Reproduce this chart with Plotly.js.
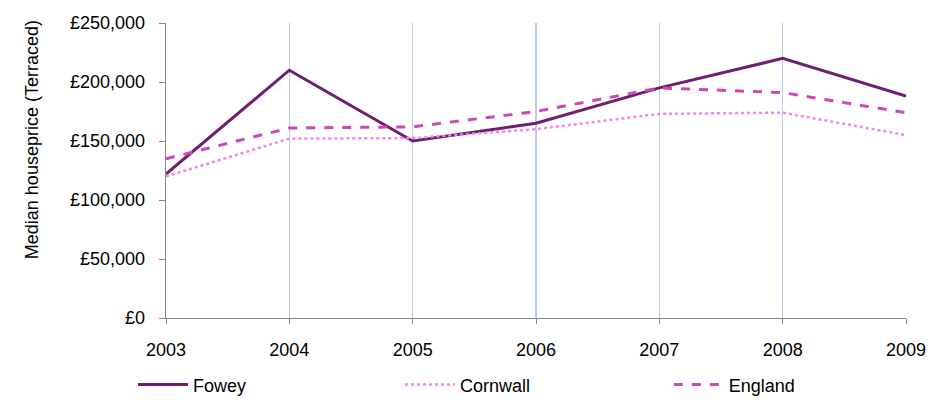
<!DOCTYPE html>
<html><head><meta charset="utf-8">
<script src="https://cdn.plot.ly/plotly-3.0.1.min.js"></script>
<style>html,body{margin:0;padding:0;background:#fff}</style>
</head><body><div id="chart" style="width:946px;height:403px"></div>
<script>
const years = [2003, 2004, 2005, 2006, 2007, 2008, 2009];
const fowey = [122000, 210000, 150000, 165000, 195000, 220000, 188000];
const cornwall = [120000, 152000, 152500, 160000, 173000, 174000, 155000];
const england = [135000, 161000, 162000, 175000, 195000, 191000, 174000];
const yTickVals = [0, 50000, 100000, 150000, 200000, 250000];
const yTickText = ['\u00A30', '\u00A350,000', '\u00A3100,000', '\u00A3150,000', '\u00A3200,000', '\u00A3250,000'];
const yTitle = 'Median houseprice (Terraced)';

const traces = [
  {x: years, y: fowey, name: 'Fowey', mode: 'lines', line: {color: '#6E1F6E', width: 3}, legend: 'legend'},
  {x: years, y: cornwall, name: 'Cornwall', mode: 'lines', line: {color: '#F084F0', width: 2.5, dash: 'dot'}, legend: 'legend2'},
  {x: years, y: england, name: 'England', mode: 'lines', line: {color: '#CC48B4', width: 3, dash: 'dash'}, legend: 'legend3'}
];
const legBase = {orientation: 'h', xref: 'container', yref: 'container', xanchor: 'left',
                 y: 0.045, yanchor: 'middle',
                 font: {size: 18}, itemwidth: 50, bgcolor: 'rgba(0,0,0,0)'};
const layout = {
  width: 946, height: 403,
  margin: {l: 166, r: 40, t: 23, b: 85},
  paper_bgcolor: '#fff', plot_bgcolor: '#fff',
  font: {family: 'Liberation Sans, Arial, sans-serif', size: 18, color: '#000'},
  showlegend: true,
  legend: Object.assign({}, legBase, {x: 0.1406}),
  legend2: Object.assign({}, legBase, {x: 0.4228}),
  legend3: Object.assign({}, legBase, {x: 0.707}),
  xaxis: {range: [2003, 2009], tickvals: years, ticktext: years.map(String),
          showgrid: true, gridcolor: '#B9CDE5', gridwidth: 1.3,
          showline: true, linecolor: '#888', linewidth: 1.3,
          ticks: 'outside', ticklen: 5, tickcolor: '#888', zeroline: false,
          ticklabelstandoff: 10, automargin: false},
  yaxis: {range: [0, 250000], tickvals: yTickVals, ticktext: yTickText, showgrid: false,
          showline: true, linecolor: '#888', linewidth: 1.3,
          ticks: 'outside', ticklen: 6, tickcolor: '#888', zeroline: false,
          ticklabelstandoff: 10, automargin: false},
  annotations: [{text: yTitle, textangle: -90, xref: 'paper', yref: 'paper',
                 x: -0.181, y: 0.603, xanchor: 'center', yanchor: 'middle',
                 showarrow: false, font: {size: 18}}]
};
Plotly.newPlot('chart', traces, layout, {displayModeBar: false, staticPlot: true});
</script></body></html>
